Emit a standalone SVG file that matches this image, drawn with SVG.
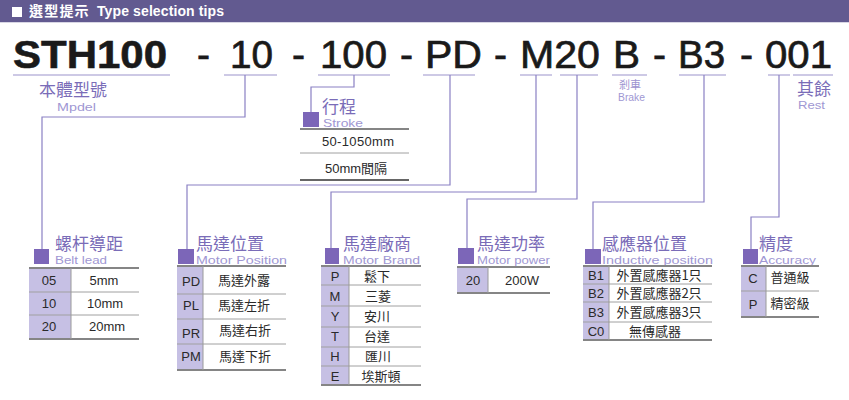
<svg xmlns="http://www.w3.org/2000/svg" width="849" height="400" viewBox="0 0 849 400">
<style>
.code{font-family:"Liberation Sans",Arial,sans-serif;font-size:39px;fill:#1a1a1a;stroke:#1a1a1a;stroke-width:0.7}
.bold{font-weight:bold;stroke-width:0.6}
.ul{stroke:#9c94cc;stroke-width:1.2;fill:none}
.conn{stroke:#8a80c4;stroke-width:1.2;fill:none}
.h{font-family:"Noto Sans CJK TC","Noto Sans CJK SC",sans-serif;font-size:17px;fill:#7a6cb8}
.en{font-family:"Liberation Sans",Arial,sans-serif;font-size:11.5px;fill:#a097d3}
.sm{font-family:"Noto Sans CJK TC",sans-serif;font-size:11px;fill:#9d93d0}
.sq{fill:#7c66b8}
.lc{fill:#c6c0e4}
.top{stroke:#858585;stroke-width:2}
.rl{stroke:#a0a0a0;stroke-width:1}
.cd{stroke:#9a9a9a;stroke-width:1}
.t{font-family:"Liberation Sans","Noto Sans CJK TC",sans-serif;font-size:13px;fill:#2a2a2a;text-anchor:middle}
.tc{font-family:"Noto Sans CJK TC",sans-serif;font-size:13px;fill:#2a2a2a;text-anchor:middle}
</style>
<rect x="0" y="0" width="849" height="22" fill="#625a90"/>
<rect x="0" y="22" width="849" height="1" fill="#d8d6e4"/>
<rect x="12" y="7" width="10" height="10" fill="#ffffff"/>
<text x="29" y="16" font-family="Noto Sans CJK TC,sans-serif" font-size="14" font-weight="bold" fill="#ffffff" letter-spacing="1.2">選型提示</text>
<text x="97" y="16" font-family="Liberation Sans,Arial,sans-serif" font-size="14" font-weight="bold" fill="#ffffff" textLength="127">Type selection tips</text>

<g id="code">
<text class="code bold" x="13" y="68" textLength="154" lengthAdjust="spacingAndGlyphs">STH100</text>
<text class="code" x="197" y="68">-</text>
<text class="code" x="230" y="68" textLength="43" lengthAdjust="spacingAndGlyphs">10</text>
<text class="code" x="292" y="68">-</text>
<text class="code" x="320" y="68" textLength="67" lengthAdjust="spacingAndGlyphs">100</text>
<text class="code" x="400" y="68">-</text>
<text class="code" x="425" y="68" textLength="57" lengthAdjust="spacingAndGlyphs">PD</text>
<text class="code" x="494" y="68">-</text>
<text class="code" x="520" y="68" textLength="80" lengthAdjust="spacingAndGlyphs">M20</text>
<text class="code" x="613" y="68" textLength="27" lengthAdjust="spacingAndGlyphs">B</text>
<text class="code" x="653" y="68">-</text>
<text class="code" x="678" y="68" textLength="47" lengthAdjust="spacingAndGlyphs">B3</text>
<text class="code" x="740" y="68">-</text>
<text class="code" x="765" y="68" textLength="67" lengthAdjust="spacingAndGlyphs">001</text>
</g>
<g id="underlines">
<path class="ul" d="M13 75H170M224 75H277M318 75H390M423 75H475M520 75H552M560 75H598M612 75H647M679 75H726M768 75H790M793 75H833"/>
</g>
<g id="labels">
<text class="h" x="39" y="96">本體型號</text>
<text class="en" x="57" y="111" font-size="11" textLength="39" lengthAdjust="spacingAndGlyphs">Mpdel</text>
<text class="sm" x="619" y="89" font-size="10.5">剎車</text>
<text class="en" x="618" y="101" font-size="9" textLength="27" lengthAdjust="spacingAndGlyphs">Brake</text>
<text class="h" x="797" y="95" font-size="13" fill="#9d93d0">其餘</text>
<text class="en" x="798" y="109" font-size="10.5" textLength="27" lengthAdjust="spacingAndGlyphs">Rest</text>
</g>

<g id="connectors">
<path class="conn" d="M245 75V117H42V249"/>
<path class="conn" d="M354 75V87H311V112"/>
<path class="conn" d="M450 75V185H187V249"/>
<path class="conn" d="M536 75V192H331V249"/>
<path class="conn" d="M577 75V199H467V249"/>
<path class="conn" d="M704 75V202H593V249"/>
<path class="conn" d="M779 75V217H751V249"/>
</g>

<g id="stroke">
<rect class="sq" x="303" y="112" width="16" height="15"/>
<text class="h" x="322" y="113">行程</text>
<text class="en" x="323" y="127" textLength="40" lengthAdjust="spacingAndGlyphs">Stroke</text>
<line class="top" x1="300" y1="129" x2="409" y2="129"/>
<line class="rl" x1="300" y1="153" x2="409" y2="153"/>
<line x1="300" y1="180" x2="409" y2="180" stroke="#333" stroke-width="1.5"/>
<text class="t" x="358" y="146" textLength="72">50-1050mm</text>
<text class="t" x="356" y="173">50mm間隔</text>
</g>

<g id="belt-lead">
<rect class="sq" x="34" y="249" width="15" height="15"/>
<text class="h" x="55" y="250">螺杆導距</text>
<text class="en" x="55" y="264" textLength="52" lengthAdjust="spacingAndGlyphs">Belt lead</text>
<rect class="lc" x="29" y="268" width="42" height="71"/>
<line class="top" x1="29" y1="268" x2="139" y2="268"/>
<line class="rl" x1="29" y1="292" x2="139" y2="292"/>
<line class="rl" x1="29" y1="315" x2="139" y2="315"/>
<line class="top" x1="29" y1="339" x2="139" y2="339"/>
<line class="cd" x1="71" y1="268" x2="71" y2="339"/>
<text class="t" x="49" y="285">05</text><text class="t" x="104" y="285">5mm</text>
<text class="t" x="49" y="308">10</text><text class="t" x="105" y="308">10mm</text>
<text class="t" x="49" y="331">20</text><text class="t" x="107" y="331">20mm</text>
</g>

<g id="motor-position">
<rect class="sq" x="178" y="249" width="16" height="15"/>
<text class="h" x="196" y="250">馬達位置</text>
<text class="en" x="196" y="264" textLength="91" lengthAdjust="spacingAndGlyphs">Motor Position</text>
<rect class="lc" x="177" y="266" width="26" height="104"/>
<line class="top" x1="177" y1="266" x2="286" y2="266"/>
<line class="rl" x1="177" y1="294" x2="286" y2="294"/>
<line class="rl" x1="177" y1="319" x2="286" y2="319"/>
<line class="rl" x1="177" y1="344" x2="286" y2="344"/>
<line class="top" x1="177" y1="370" x2="286" y2="370"/>
<line class="cd" x1="203" y1="266" x2="203" y2="370"/>
<text class="t" x="191" y="286">PD</text><text class="tc" x="244" y="285">馬達外露</text>
<text class="t" x="191" y="310">PL</text><text class="tc" x="244" y="310">馬達左折</text>
<text class="t" x="191" y="338">PR</text><text class="tc" x="245" y="335">馬達右折</text>
<text class="t" x="191" y="361">PM</text><text class="tc" x="245" y="361">馬達下折</text>
</g>

<g id="motor-brand">
<rect class="sq" x="325" y="248" width="14" height="16"/>
<text class="h" x="343" y="250">馬達廠商</text>
<text class="en" x="343" y="264" textLength="77" lengthAdjust="spacingAndGlyphs">Motor Brand</text>
<rect class="lc" x="321" y="266" width="28" height="119"/>
<line class="top" x1="321" y1="266" x2="421" y2="266"/>
<line class="rl" x1="321" y1="285" x2="421" y2="285"/>
<line class="rl" x1="321" y1="306" x2="421" y2="306"/>
<line class="rl" x1="321" y1="327" x2="421" y2="327"/>
<line class="rl" x1="321" y1="347" x2="421" y2="347"/>
<line class="rl" x1="321" y1="366" x2="421" y2="366"/>
<line class="top" x1="321" y1="385" x2="421" y2="385"/>
<line class="cd" x1="349" y1="266" x2="349" y2="385"/>
<text class="t" x="335" y="281" font-size="12">P</text><text class="tc" x="377" y="281" font-size="12">鬆下</text>
<text class="t" x="335" y="301" font-size="12">M</text><text class="tc" x="378" y="301" font-size="12">三菱</text>
<text class="t" x="335" y="321" font-size="12">Y</text><text class="tc" x="377" y="321" font-size="12">安川</text>
<text class="t" x="335" y="341" font-size="12">T</text><text class="tc" x="377" y="341" font-size="12">台達</text>
<text class="t" x="335" y="361" font-size="12">H</text><text class="tc" x="378" y="361" font-size="12">匯川</text>
<text class="t" x="335" y="381" font-size="12">E</text><text class="tc" x="381" y="381" font-size="12">埃斯頓</text>
</g>

<g id="motor-power">
<rect class="sq" x="458" y="248" width="16" height="16"/>
<text class="h" x="477" y="250">馬達功率</text>
<text class="en" x="477" y="264" textLength="73" lengthAdjust="spacingAndGlyphs">Motor power</text>
<rect class="lc" x="457" y="267" width="31" height="26"/>
<line class="top" x1="457" y1="267" x2="550" y2="267"/>
<line class="top" x1="457" y1="293" x2="550" y2="293"/>
<line class="cd" x1="488" y1="267" x2="488" y2="293"/>
<text class="t" x="473" y="285">20</text><text class="t" x="522" y="285">200W</text>
</g>

<g id="inductive-position">
<rect class="sq" x="585" y="249" width="16" height="15"/>
<text class="h" x="602" y="250">感應器位置</text>
<text class="en" x="602" y="264" textLength="111" lengthAdjust="spacingAndGlyphs">Inductive position</text>
<rect class="lc" x="583" y="266" width="26" height="74"/>
<line class="top" x1="583" y1="266" x2="712" y2="266"/>
<line class="rl" x1="583" y1="284" x2="712" y2="284"/>
<line class="rl" x1="583" y1="302" x2="712" y2="302"/>
<line class="rl" x1="583" y1="322" x2="712" y2="322"/>
<line class="top" x1="583" y1="340" x2="712" y2="340"/>
<line class="cd" x1="609" y1="266" x2="609" y2="340"/>
<text class="t" x="596" y="280">B1</text><text class="tc" x="659" y="280">外置感應器1只</text>
<text class="t" x="596" y="298">B2</text><text class="tc" x="659" y="298">外置感應器2只</text>
<text class="t" x="596" y="317">B3</text><text class="tc" x="659" y="317">外置感應器3只</text>
<text class="t" x="596" y="336">C0</text><text class="tc" x="655" y="336">無傳感器</text>
</g>

<g id="accuracy">
<rect class="sq" x="743" y="249" width="15" height="15"/>
<text class="h" x="759" y="250">精度</text>
<text class="en" x="759" y="264" textLength="57" lengthAdjust="spacingAndGlyphs">Accuracy</text>
<rect class="lc" x="741" y="266" width="25" height="51"/>
<line class="top" x1="741" y1="266" x2="819" y2="266"/>
<line class="rl" x1="741" y1="291" x2="819" y2="291"/>
<line class="top" x1="741" y1="317" x2="819" y2="317"/>
<line class="cd" x1="766" y1="266" x2="766" y2="317"/>
<text class="t" x="753" y="283" font-size="14">C</text><text class="tc" x="790" y="282" font-size="12">普通級</text>
<text class="t" x="753" y="309" font-size="14">P</text><text class="tc" x="790" y="308" font-size="12">精密級</text>
</g>
</svg>
